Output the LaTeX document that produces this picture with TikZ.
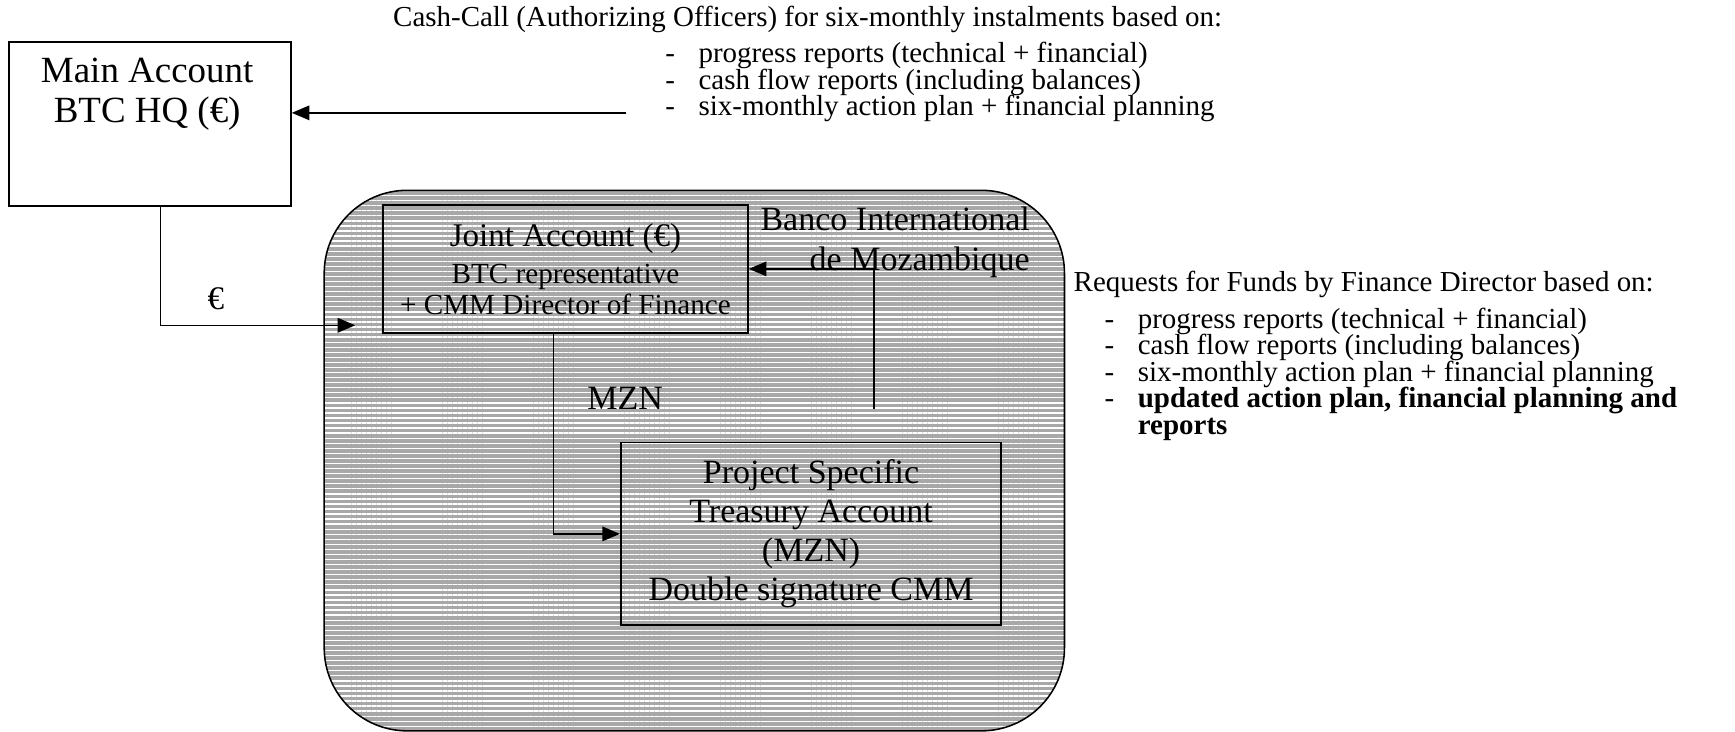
\documentclass[tikz,border=0pt]{standalone}
\usepackage{fontspec}
\setmainfont{Liberation Serif}
\usetikzlibrary{arrows.meta,patterns.meta}

\newcommand{\smallfnt}{\fontsize{14.9}{13.6}\selectfont\lineskiplimit=-8pt}
\newcommand{\midfnt}{\fontsize{15}{16}\selectfont}
\newcommand{\bigfnt}{\fontsize{17.5}{20}\selectfont}
\newcommand{\dashitem}{\makebox[0.6cm][l]{-}}

\begin{document}
\begin{tikzpicture}[x=0.02cm, y=-0.02cm,
    box/.style={draw, line width=0.9pt, inner sep=0pt},
    arr/.style={-{Triangle[length=9pt,width=7.5pt]}, line width=0.7pt},
    listtxt/.style={inner sep=0pt, font=\smallfnt, align=left}]
    \useasboundingbox (0,0) rectangle (1568,661);

    % bank region
    \draw[line width=0.8pt, preaction={fill=gray!68},
        pattern={Lines[angle=0,distance=2.6pt,line width=0.7pt]}, pattern color=white,
        rounded corners=1.5cm] (293,172) rectangle (962,660.5);

    % accounts
    \node[box, minimum width=5.1cm, minimum height=2.96cm] (main) at (135.5,112) {};
    \node[align=center, font=\fontsize{19}{20.5}\selectfont] (maintxt) at (133,85) {Main Account\\BTC HQ (€)};
    \node[box, minimum width=6.6cm, minimum height=2.32cm, align=center, font=\midfnt] (joint) at (511,243)
        {{\fontsize{17}{20}\selectfont Joint Account (€)}\\[3pt]
         BTC representative\\+ CMM Director of Finance};
    \node[box, minimum width=6.88cm, minimum height=3.3cm, align=center, font=\bigfnt] (proj) at (733,482.5)
        {Project Specific\\Treasury Account\\(MZN)\\Double signature CMM};
    \node[inner sep=0pt, anchor=east, align=right, font=\fontsize{17.5}{21}\selectfont] (bank) at (931,219)
        {Banco International\\de Mozambique};

    % texts
    \node[listtxt, anchor=west] (callhead) at (355,18)
        {Cash-Call (Authorizing Officers) for six-monthly instalments based on:};
    \node[listtxt, anchor=north west] (calllist) at (601,38)
        {\dashitem progress reports (technical + financial)\\
         \dashitem cash flow reports (including balances)\\
         \dashitem six-monthly action plan + financial planning};
    \node[listtxt, anchor=west] (reqhead) at (970,257)
        {Requests for Funds by Finance Director based on:};
    \node[listtxt, anchor=north west] (reqlist) at (998,278)
        {\dashitem progress reports (technical + financial)\\
         \dashitem cash flow reports (including balances)\\
         \dashitem six-monthly action plan + financial planning\\
         \dashitem\textbf{updated action plan, financial planning and}\\
         \hspace*{0.6cm}\textbf{reports}};
    \node[font=\fontsize{17}{20}\selectfont] (eurlbl) at (195,270) {€};
    \node[font=\fontsize{17.5}{20}\selectfont] (mznlbl) at (565,360) {MZN};

    % flows
    \coordinate (callsrc) at (566,102);
    \coordinate (eurin) at (321,294);
    \coordinate (reqsrc) at (790,370);
    \draw[arr] (callsrc) -- (callsrc -| main.east);
    \draw[arr] ([xshift=0.19cm]main.south) |- (eurin);
    \draw[arr] (reqsrc) |- (joint.east);
    \draw[arr] ([xshift=-0.22cm]joint.south) |- (proj.west);
\end{tikzpicture}
\end{document}
